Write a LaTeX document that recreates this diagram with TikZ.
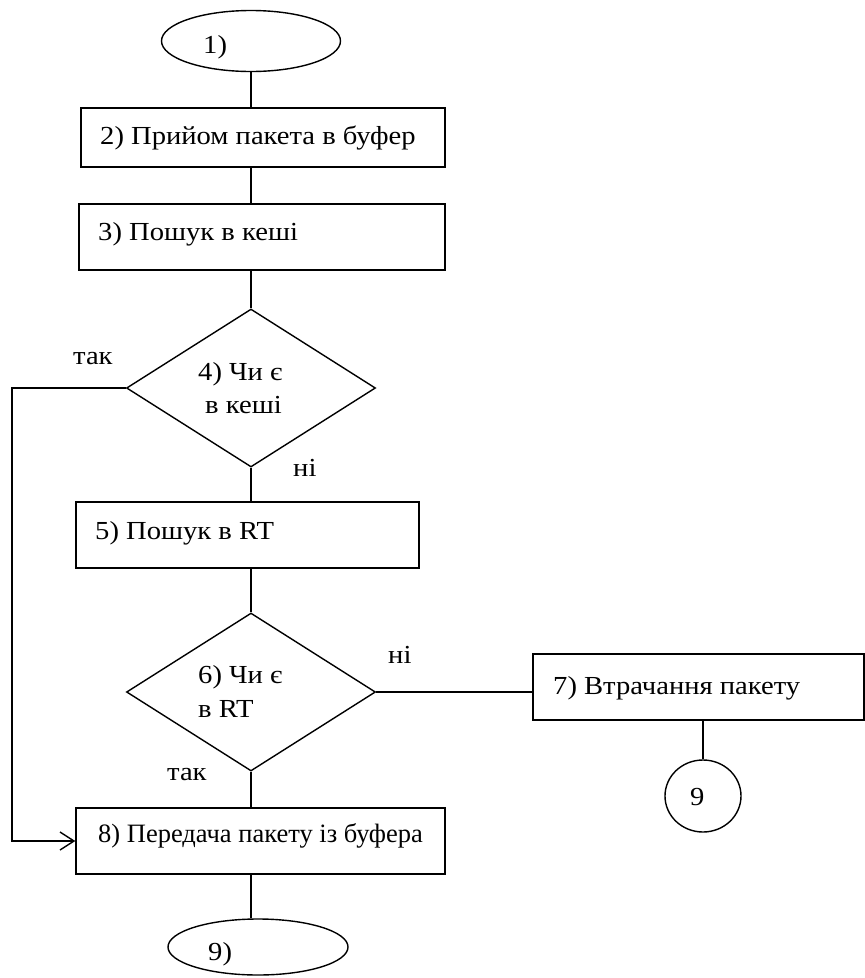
\documentclass[tikz,border=0pt]{standalone}
\usepackage{fontspec}
\newfontfamily\diagfont[FakeStretch=1.1]{Liberation Serif}
\newfontfamily\diagfontn{Liberation Serif}
\usetikzlibrary{shapes.geometric,arrows.meta}

\begin{document}
\begin{tikzpicture}[x=1pt,y=-1pt,
  every node/.style={inner sep=0pt},
  line/.style={line width=1.4pt},
  box/.style={draw,line width=1.4pt,rectangle,inner sep=0pt},
  term/.style={draw,line width=1.4pt,ellipse,inner sep=0pt},
  decide/.style={draw,line width=1.4pt,diamond,inner sep=0pt},
  txt/.style={anchor=base west,font=\diagfont\fontsize{26}{30}\selectfont},
  txtn/.style={anchor=base west,font=\diagfontn\fontsize{26.5}{30}\selectfont}
]
\useasboundingbox (0,0) rectangle (865,978);

% shapes
\node[term,minimum width=179,minimum height=61] (e1) at (251,41) {};
\node[box,minimum width=364,minimum height=59] (b2) at (263,137.5) {};
\node[box,minimum width=366,minimum height=66] (b3) at (262,237) {};
\node[decide,minimum width=249,minimum height=158] (d4) at (251,388) {};
\node[box,minimum width=343,minimum height=66] (b5) at (247.5,535) {};
\node[decide,minimum width=249,minimum height=158] (d6) at (251,692) {};
\node[box,minimum width=331,minimum height=66] (b7) at (698.5,687) {};
\node[term,minimum width=76,minimum height=72] (c9) at (703,796) {};
\node[box,minimum width=369,minimum height=66] (b8) at (260.5,841) {};
\node[term,minimum width=180,minimum height=56] (e9) at (258,947) {};
\coordinate (lc) at (12,389);

% texts
\node[txt] (t1) at (203,53) {1)};
\node[txt] (t2) at (100,144) {2) Прийом пакета в буфер};
\node[txt] (t3) at (98,240) {3) Пошук в кеші};
\node[txt] (t4a) at (198,380) {4) Чи є};
\node[txt] (t4b) at (205,413) {в кеші};
\node[txt] (y4) at (73,364) {так};
\node[txt] (n4) at (293,476) {ні};
\node[txt] (t5) at (95,539) {5) Пошук в RT};
\node[txt] (t6a) at (198,683) {6) Чи є};
\node[txt] (t6b) at (198,717) {в RT};
\node[txt] (n6) at (388,663) {ні};
\node[txt] (y6) at (167,780) {так};
\node[txt] (t7) at (553,694) {7) Втрачання пакету};
\node[txt] (t9c) at (690,805) {9};
\node[txtn] (t8) at (98,842) {8) Передача пакету із буфера};
\node[txt] (t9) at (208,960) {9)};

% connectors
\draw[line] (e1.south) -- (e1.south |- b2.north);
\draw[line] (b2.south -| d4) -- (b3.north -| d4);
\draw[line] (b3.south -| d4) -- (d4.north);
\draw[line] (d4.south) -- (b5.north -| d4);
\draw[line] (b5.south -| d4) -- (d6.north);
\draw[line] (d6.south) -- (b8.north -| d6);
\draw[line] (b8.south -| d6) -- (e9.north -| d6);
\draw[line] (d6.east) -- (b7.west |- d6.east);
\draw[line] (b7.south -| c9) -- (c9.north);
\draw[line,-{Straight Barb[length=14pt,width=18pt,line width=1.4pt]}]
  (d4.west) -- (d4.west -| lc) |- (b8.west);
\end{tikzpicture}
\end{document}
